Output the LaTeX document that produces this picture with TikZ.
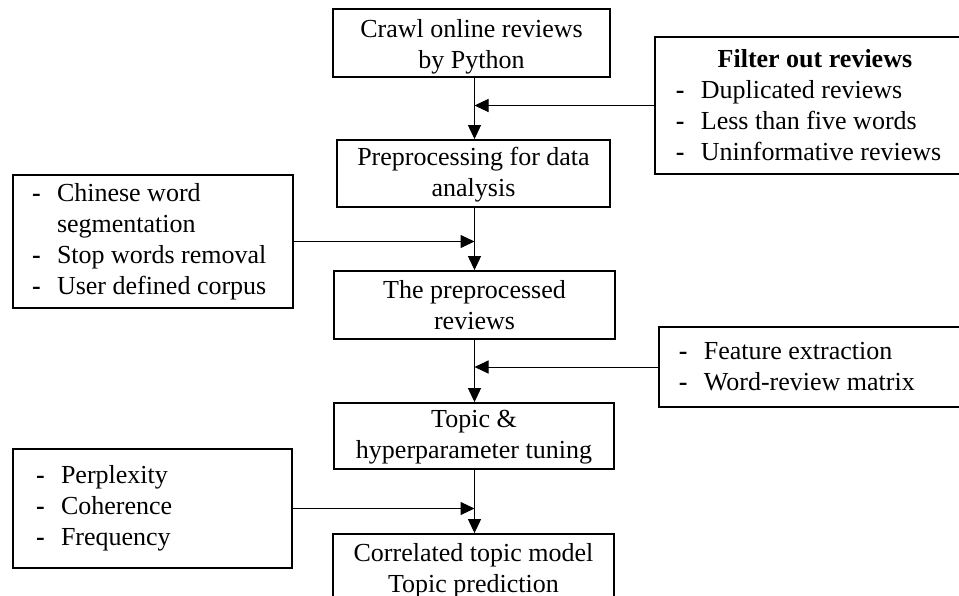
\documentclass[tikz,border=0pt]{standalone}
\usepackage{fontspec}
\setmainfont{Liberation Serif}
\usetikzlibrary{arrows.meta}
% bullet dash used in the side lists
\newcommand\itm{\makebox[25pt][l]{\textbf{-}}}
\begin{document}
\begin{tikzpicture}[x=1pt,y=-1pt,
  txt/.style={font=\fontsize{26pt}{31pt}\selectfont},
  frame/.style={draw, line width=1.8pt, inner sep=0pt},
  caption/.style={txt, align=center, inner sep=0pt},
  listbox/.style={draw, line width=1.8pt, inner ysep=0pt, txt, align=flush left},
  flow/.style={line width=1pt, -{Triangle[length=14pt,width=13pt]}}]
\useasboundingbox (0,0) rectangle (959,595);
\clip (0,0) rectangle (959,595);

% main pipeline: frames
\node[frame, minimum width=277pt, minimum height=68pt] (crawl) at (471.5,43) {};
\node[frame, minimum width=273pt, minimum height=67pt] (prep)  at (473.5,173.5) {};
\node[frame, minimum width=281pt, minimum height=68pt] (clean) at (474.5,305) {};
\node[frame, minimum width=280pt, minimum height=66pt] (tune)  at (474,436) {};
\node[frame, minimum width=281pt, minimum height=68pt] (ctm)   at (473.5,568) {};

% main pipeline: captions
\node[caption] (crawl-t) at ([yshift=-3.5pt]crawl.center) {Crawl online reviews\\by Python};
\node[caption] (prep-t)  at ([yshift=-1pt]prep.center)    {Preprocessing for data\\analysis};
\node[caption] (clean-t) at (clean.center)                {The preprocessed\\reviews};
\node[caption] (tune-t)  at ([yshift=-1.5pt]tune.center)  {Topic \&\\hyperparameter tuning};
\node[caption] (ctm-t)   at ([yshift=-2.5pt]ctm.center)   {Correlated topic model\\Topic prediction};

% side inputs
\node[listbox, anchor=west, inner xsep=21pt, text width=278pt, minimum height=137pt] (filter) at (654,105.5)
  {\makebox[278pt][c]{\textbf{Filter out reviews}}\\
   \itm Duplicated reviews\\
   \itm Less than five words\\
   \itm Uninformative reviews};
\node[listbox, inner xsep=19pt, text width=242pt, minimum height=133pt] (seg) at (153,241.5)
  {\itm Chinese word\\
   \hspace*{25pt}segmentation\\
   \itm Stop words removal\\
   \itm User defined corpus};
\node[listbox, anchor=west, inner xsep=20pt, text width=280pt, minimum height=80pt] (feat) at (658,367)
  {\itm Feature extraction\\
   \itm Word-review matrix};
\node[listbox, inner xsep=23pt, text width=233pt, minimum height=119pt] (metric) at (152.5,508.5)
  {\itm Perplexity\\
   \itm Coherence\\
   \itm Frequency};

% connectors
\coordinate (spine) at (474.5,0);
\draw[flow] (crawl.south -| spine) -- (prep.north -| spine);
\draw[flow] (prep.south -| spine) -- (clean.north -| spine);
\draw[flow] (clean.south -| spine) -- (tune.north -| spine);
\draw[flow] (tune.south -| spine) -- (ctm.north -| spine);
\draw[flow] (filter.west) -- (filter.west -| spine);
\draw[flow] (seg.east) -- (seg.east -| spine);
\draw[flow] (feat.west) -- (feat.west -| spine);
\draw[flow] (metric.east) -- (metric.east -| spine);
\end{tikzpicture}
\end{document}
